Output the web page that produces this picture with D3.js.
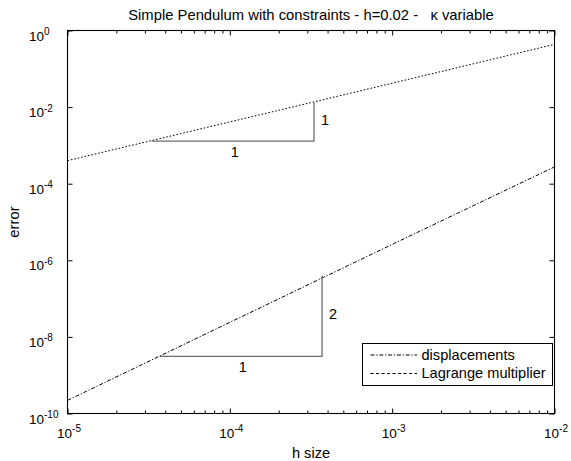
<!DOCTYPE html>
<html>
<head>
<meta charset="utf-8">
<script src="https://cdn.jsdelivr.net/npm/d3@7"></script>
<style>
  html, body { margin: 0; padding: 0; background: #fff; }
  svg { display: block; }
  text { font-family: "Liberation Sans", Arial, Helvetica, sans-serif; fill: #000; }
</style>
</head>
<body>
<svg id="chart" width="571" height="461"></svg>
<script>
// Step sizes and the measured errors of both quantities
const hValues = [1e-5, 1e-4, 1e-3, 1e-2];
const lagrangeErr = [4.0e-4, 4.1e-3, 4.2e-2, 4.35e-1];
const displacementErr = [2.2e-10, 2.4e-8, 2.6e-6, 2.75e-4];

// Slope triangles: corners and the run / rise labels
const triX0 = [3.3e-5, 3.7e-5];
const triX1 = [3.3e-4, 3.7e-4];
const triYBase = [1.3e-3, 3.1e-9];
const triYTop = [1.3e-2, 4.0e-7];
const triRun = ["1", "1"];
const triRise = ["1", "2"];

// Tick exponents
const xTickExps = [-5, -4, -3, -2];
const yTickExps = [0, -2, -4, -6, -8, -10];

const legendLabels = ["displacements", "Lagrange multiplier"];

const svg = d3.select("#chart");
const plotLeft = 67.5, plotRight = 554.5, plotTop = 30.5, plotBottom = 413.5;

const x = d3.scaleLog().domain([1e-5, 1e-2]).range([plotLeft, plotRight]);
const y = d3.scaleLog().domain([1e-10, 1]).range([plotBottom, plotTop]);

// Minor x ticks 2..9 inside each decade
const xMinor = [];
for (let e = -5; e < -2; e++) for (let m = 2; m <= 9; m++) xMinor.push(m * Math.pow(10, e));
const xMajor = xTickExps.map(e => Math.pow(10, e));
const yMajor = yTickExps.map(e => Math.pow(10, e));

function tickGroup(axis, tx, ty) {
  const g = svg.append("g").attr("transform", `translate(${tx},${ty})`).call(axis);
  g.select(".domain").remove();
  g.selectAll(".tick line").attr("stroke", "#000").attr("stroke-width", 1);
  return g;
}

// bottom & top x ticks (inward)
tickGroup(d3.axisBottom(x).tickValues(xMinor).tickSize(-3).tickFormat(() => ""), 0, plotBottom);
tickGroup(d3.axisTop(x).tickValues(xMinor).tickSize(-3).tickFormat(() => ""), 0, plotTop);
const xb = tickGroup(d3.axisBottom(x).tickValues(xMajor).tickSize(-5).tickFormat(() => ""), 0, plotBottom);
tickGroup(d3.axisTop(x).tickValues(xMajor).tickSize(-5).tickFormat(() => ""), 0, plotTop);

// left & right y ticks (inward)
const yl = tickGroup(d3.axisLeft(y).tickValues(yMajor).tickSize(-5).tickFormat(() => ""), plotLeft, 0);
tickGroup(d3.axisRight(y).tickValues(yMajor).tickSize(-5).tickFormat(() => ""), plotRight, 0);

// power-of-ten labels
function powLabel(sel, exp) {
  sel.append("tspan").attr("font-size", 13.5).text("10");
  sel.append("tspan").attr("font-size", 10).attr("dy", -5.5).text(exp);
}
xb.selectAll(".tick text").remove();
xb.selectAll(".tick").each(function (d) {
  const t = d3.select(this).append("text")
    .attr("x", 1).attr("y", 24).attr("text-anchor", "middle");
  powLabel(t, Math.round(Math.log10(d)));
});
yl.selectAll(".tick text").remove();
yl.selectAll(".tick").each(function (d) {
  const t = d3.select(this).append("text")
    .attr("x", 29 - plotLeft).attr("y", 9.5).attr("text-anchor", "start");
  powLabel(t, Math.round(Math.log10(d)));
});

// plot frame
svg.append("rect")
  .attr("x", plotLeft).attr("y", plotTop)
  .attr("width", plotRight - plotLeft).attr("height", plotBottom - plotTop)
  .attr("fill", "none").attr("stroke", "#000").attr("stroke-width", 1.1);

// error curves
const line = d3.line().x(d => x(d[0])).y(d => y(d[1]));
svg.append("path")
  .attr("d", line(d3.zip(hValues, lagrangeErr)))
  .attr("fill", "none").attr("stroke", "#000").attr("stroke-width", 1)
  .attr("stroke-dasharray", "1.6,1.9");
svg.append("path")
  .attr("d", line(d3.zip(hValues, displacementErr)))
  .attr("fill", "none").attr("stroke", "#000").attr("stroke-width", 1)
  .attr("stroke-dasharray", "4,1.8,1.2,1.8");

// slope triangles
triX0.forEach((x0, i) => {
  const px0 = x(x0), px1 = x(triX1[i]), pyB = y(triYBase[i]), pyT = y(triYTop[i]);
  svg.append("path")
    .attr("d", `M${px0},${pyB}H${px1}V${pyT}`)
    .attr("fill", "none").attr("stroke", "#6e6e6e").attr("stroke-width", 1.3);
  svg.append("text")
    .attr("x", (px0 + px1) / 2 + 2).attr("y", pyB + 15.5)
    .attr("text-anchor", "middle").attr("font-size", 14.5).attr("fill", "#222")
    .text(triRun[i]);
  svg.append("text")
    .attr("x", px1 + 7).attr("y", (pyB + pyT) / 2 + 3)
    .attr("text-anchor", "start").attr("font-size", 14.5).attr("fill", "#222")
    .text(triRise[i]);
});

// legend
const lg = svg.append("g");
lg.append("rect")
  .attr("x", 362.5).attr("y", 343.5).attr("width", 190).attr("height", 42)
  .attr("fill", "#fff").attr("stroke", "#000").attr("stroke-width", 1);
const dashes = ["4,1.8,1.2,1.8", "3.2,2.3"];
legendLabels.forEach((lab, i) => {
  const cy = 355 + i * 18.5;
  lg.append("line")
    .attr("x1", 370.5).attr("x2", 417).attr("y1", cy).attr("y2", cy)
    .attr("stroke", "#000").attr("stroke-width", 1)
    .attr("stroke-dasharray", dashes[i]);
  lg.append("text")
    .attr("x", 421.5).attr("y", cy + 4.8)
    .attr("font-size", 14.6).text(lab);
});

// titles
svg.append("text")
  .attr("x", (plotLeft + plotRight) / 2).attr("y", 20)
  .attr("text-anchor", "middle").attr("font-size", 14.8)
  .text("Simple Pendulum with constraints - h=0.02 -\u00a0\u00a0\u00a0\u03ba variable");
svg.append("text")
  .attr("x", (plotLeft + plotRight) / 2).attr("y", 457.5)
  .attr("text-anchor", "middle").attr("font-size", 14.6)
  .text("h size");
svg.append("text")
  .attr("transform", `translate(19.3,${(plotTop + plotBottom) / 2}) rotate(-90)`)
  .attr("text-anchor", "middle").attr("font-size", 14.8)
  .text("error");
</script>
</body>
</html>
